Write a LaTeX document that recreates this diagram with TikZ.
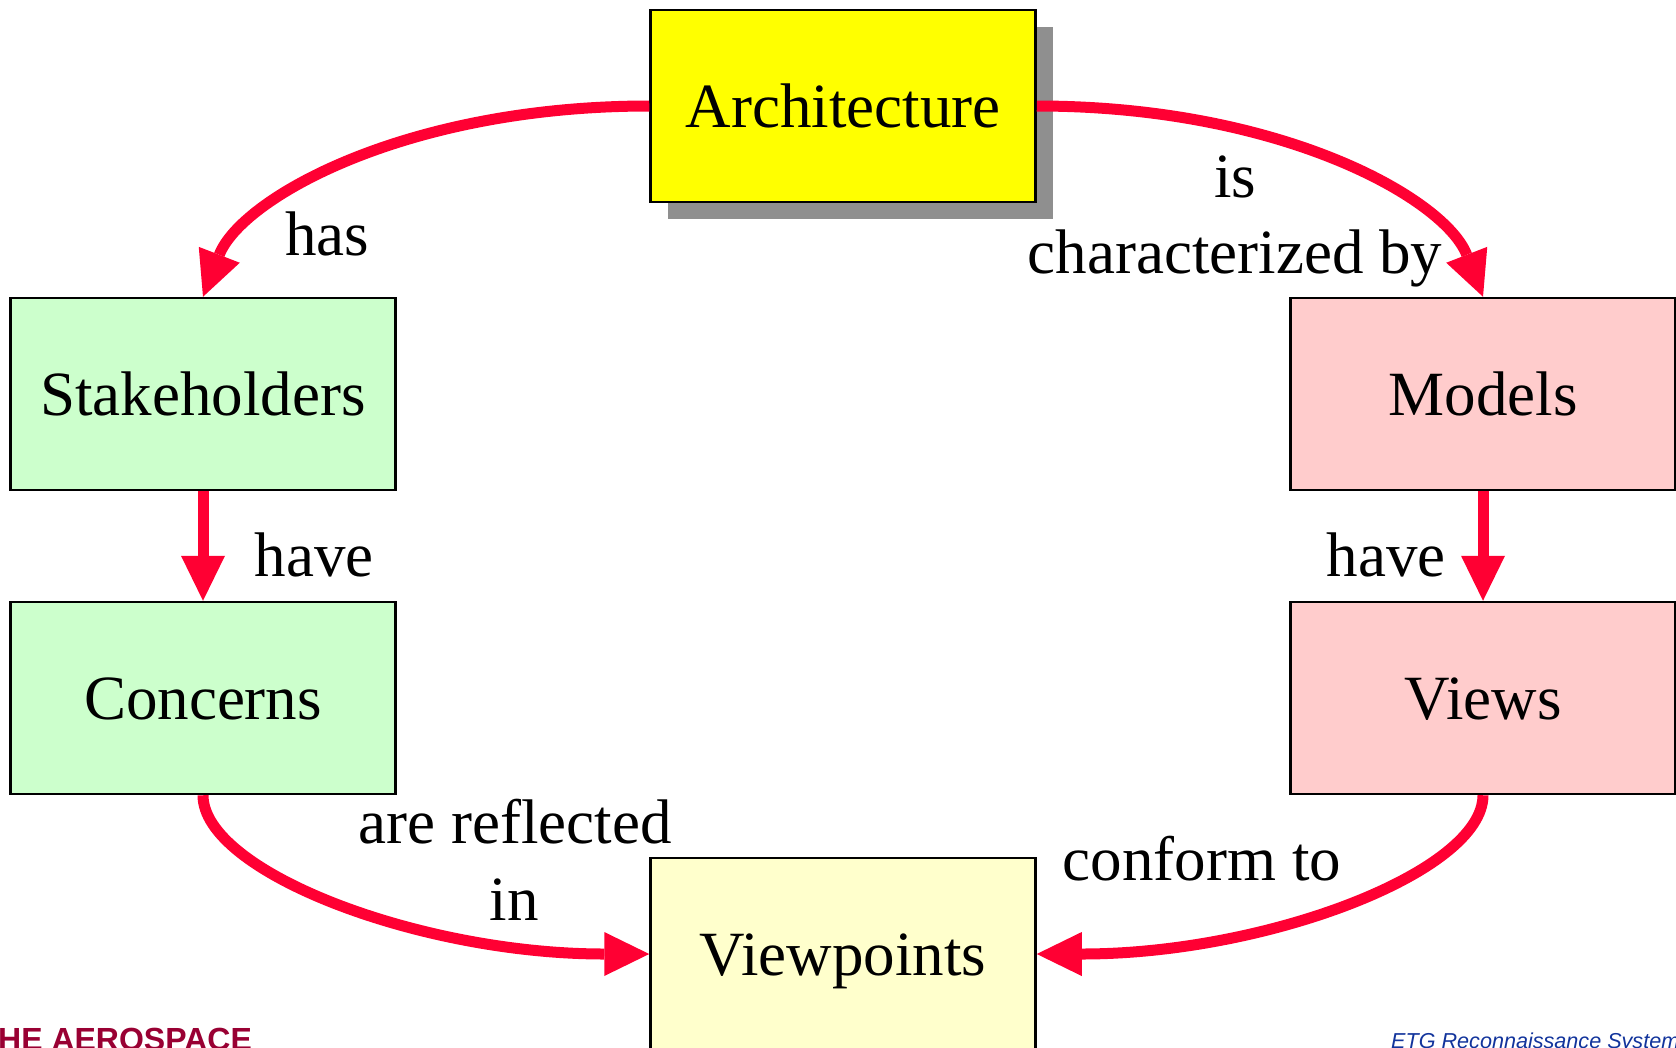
\documentclass[tikz,border=0pt]{standalone}
\usepackage{fontspec}
\setmainfont{Liberation Serif}
\newfontfamily\labelsans{Liberation Sans}
\usetikzlibrary{arrows.meta,shadows}

\definecolor{arrowred}{HTML}{FF0033}
\definecolor{archyellow}{HTML}{FFFF00}
\definecolor{stakegreen}{HTML}{CCFFCC}
\definecolor{modelpink}{HTML}{FFCCCC}
\definecolor{vpyellow}{HTML}{FFFFCC}
\definecolor{shadowgray}{HTML}{8F8F8F}
\definecolor{aerored}{HTML}{990033}
\definecolor{etgblue}{HTML}{12349C}

\begin{document}
\begin{tikzpicture}[x=1pt,y=-1pt,
  conceptbox/.style={draw=black, line width=2.5pt, minimum width=385pt,
    minimum height=192pt, inner sep=0pt, text height=43pt, text depth=0pt,
    font=\fontsize{63}{76}\selectfont},
  conn/.style={draw=arrowred, line width=11pt,
    -{Triangle[length=45pt,width=44pt,line width=0pt]}},
  lbl/.style={font=\fontsize{63}{76}\selectfont, inner sep=0pt, anchor=base}]

  \clip (0,0) rectangle (1676,1047);
  \fill[white] (0,0) rectangle (1676,1047);

  % concept boxes
  \node[conceptbox, fill=archyellow,
        drop shadow={shadow xshift=17pt, shadow yshift=-17pt,
                     fill=shadowgray, opacity=1}]
        (arch) at (843,106) {Architecture};
  \node[conceptbox, fill=stakegreen] (stake)    at (203,394)  {Stakeholders};
  \node[conceptbox, fill=stakegreen] (concerns) at (203,698)  {Concerns};
  \node[conceptbox, fill=modelpink]  (models)   at (1483,394) {Models};
  \node[conceptbox, fill=modelpink]  (views)    at (1483,698) {Views};
  \node[conceptbox, fill=vpyellow]   (vp)       at (843,954)  {Viewpoints};

  % relations
  \draw[conn] (arch.west) .. controls +(-245,0) and +(38,-98) .. (stake.north);
  \draw[conn] (arch.east) .. controls +(245,0) and +(-38,-98) .. (models.north);
  \draw[conn] (stake) -- (concerns);
  \draw[conn] (models) -- (views);
  \draw[conn] (concerns.south) .. controls +(0,76) and +(-231,0) .. (vp.west);
  \draw[conn] (views.south) .. controls +(0,76) and +(231,0) .. (vp.east);

  % relation labels
  \node[lbl] (lhas)   at (327,255)  {has};
  \node[lbl] (lis)    at (1235,197) {is};
  \node[lbl] (lchar)  at (1235,273) {characterized by};
  \node[lbl] (lhaveL) at (314,576)  {have};
  \node[lbl] (lhaveR) at (1386,576) {have};
  \node[lbl] (lrefl)  at (515,843)  {are reflected};
  \node[lbl] (lin)    at (514,920)  {in};
  \node[lbl] (lconf)  at (1202,880) {conform to};

  % footer
  \node[anchor=base west, inner sep=0pt, text=aerored,
        font=\labelsans\bfseries\fontsize{32}{38}\selectfont]
        (corp) at (-2,1050) {HE AEROSPACE};
  \node[anchor=base west, inner sep=0pt, text=etgblue,
        font=\labelsans\itshape\fontsize{21.6}{26}\selectfont]
        (etg) at (1391,1048) {ETG Reconnaissance System};
\end{tikzpicture}
\end{document}
